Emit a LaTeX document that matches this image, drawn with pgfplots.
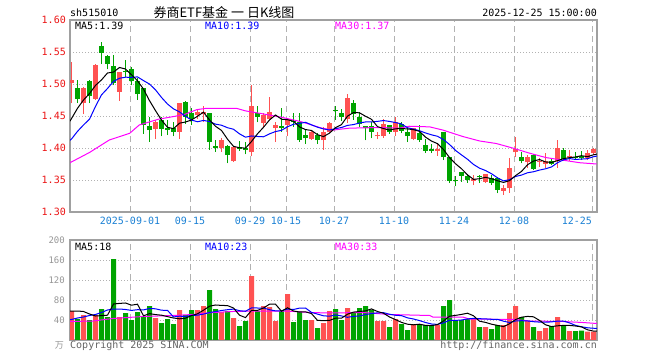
\documentclass[border=0pt]{standalone}
\usepackage{pgfplots}
\pgfplotsset{compat=1.18}
\usepackage{fontspec}
\newfontfamily\mono{DejaVu Sans Mono}
\newfontfamily\cjk{Noto Sans CJK SC}
\definecolor{kred}{RGB}{255,82,82}
\definecolor{kgreen}{RGB}{0,164,0}
\definecolor{mafive}{RGB}{0,0,0}
\definecolor{maten}{RGB}{0,0,255}
\definecolor{mathirty}{RGB}{255,0,255}
\definecolor{xlab}{RGB}{26,128,212}
\definecolor{ylab}{RGB}{235,20,20}
\definecolor{framec}{RGB}{160,160,160}
\definecolor{gridc}{RGB}{178,178,178}
\definecolor{vlab}{RGB}{150,150,150}
\definecolor{foot}{RGB}{100,100,100}
\begin{document}
\begin{tikzpicture}
\useasboundingbox (0,0) rectangle (660bp,360bp);
\pgfplotsset{
  kline/.style={
    scale only axis, width=527bp,
    xmin=-0.25, xmax=87.58,
    axis line style={draw=framec, line width=1.2bp},
    tick style={draw=none},
    xtick={9.75,19.75,29.75,35.75,43.75,53.75,63.75,73.75,86.75},
    xmajorgrids, ymajorgrids,
    major x grid style={gridc, dash pattern=on 6bp off 4bp, line width=0.9bp},
    major y grid style={gridc, dash pattern=on 1bp off 2bp, line width=0.9bp},
    /pgf/number format/assume math mode=true,
    scaled y ticks=false,
    unbounded coords=jump,
  }
}
% ---------------- price panel ----------------
\begin{axis}[kline, at={(70bp,148bp)}, anchor=south west, height=192bp,
  ymin=1.30, ymax=1.60,
  ytick={1.30,1.35,1.40,1.45,1.50,1.55,1.60},
  yticklabel style={font=\mono\fontsize{10bp}{10bp}\selectfont, text=ylab, inner sep=0pt, xshift=-4bp,
    /pgf/number format/fixed, /pgf/number format/fixed zerofill, /pgf/number format/precision=2},
  xticklabels={2025-09-01,09-15,09-29,10-15,10-27,11-10,11-24,12-08,{12-25\hphantom{12-25}}},
  xticklabel style={font=\mono\fontsize{10bp}{10bp}\selectfont, text=xlab, inner sep=0pt, yshift=-5bp},
]
% red wicks
\addplot[kred, line width=1bp] coordinates {
(0,1.470) (0,1.535) (0,nan) (2,1.453) (2,1.495) (2,nan) (4,1.4755) (4,1.531) (4,nan)
(8,1.474) (8,1.518) (8,nan) (14,1.414) (14,1.444) (14,nan) (18,1.414) (18,1.471) (18,nan)
(21,1.446) (21,1.460) (21,nan) (22,1.441) (22,1.465) (22,nan) (25,1.394) (25,1.415) (25,nan)
(27,1.378) (27,1.402) (27,nan) (30,1.387) (30,1.498) (30,nan) (32,1.431) (32,1.455) (32,nan)
(33,1.444) (33,1.480) (33,nan) (34,1.410) (34,1.440) (34,nan) (36,1.418) (36,1.447) (36,nan)
(40,1.413) (40,1.426) (40,nan) (42,1.397) (42,1.433) (42,nan) (43,1.423) (43,1.440) (43,nan)
(46,1.439) (46,1.484) (46,nan) (51,1.414) (51,1.425) (51,nan) (52,1.416) (52,1.445) (52,nan)
(54,1.419) (54,1.449) (54,nan) (57,1.412) (57,1.432) (57,nan) (61,1.388) (61,1.408) (61,nan)
(67,1.342) (67,1.358) (67,nan) (69,1.346) (69,1.360) (69,nan) (72,1.327) (72,1.342) (72,nan)
(73,1.330) (73,1.384) (73,nan) (74,1.386) (74,1.417) (74,nan) (76,1.369) (76,1.389) (76,nan)
(78,1.371) (78,1.384) (78,nan) (79,1.368) (79,1.392) (79,nan) (81,1.369) (81,1.413) (81,nan)
(83,1.380) (83,1.397) (83,nan) (86,1.381) (86,1.397) (86,nan) (87,1.389) (87,1.400)
};
% red bodies
\addplot[kred, line width=5bp] coordinates {
(0,1.501) (0,1.506) (0,nan) (2,1.470) (2,1.494) (2,nan) (4,1.477) (4,1.530) (4,nan)
(8,1.488) (8,1.518) (8,nan) (14,1.430) (14,1.440) (14,nan) (18,1.425) (18,1.471) (18,nan)
(21,1.452) (21,1.457) (21,nan) (22,1.453) (22,1.457) (22,nan) (25,1.400) (25,1.413) (25,nan)
(27,1.379) (27,1.401) (27,nan) (30,1.393) (30,1.465) (30,nan) (32,1.439) (32,1.452) (32,nan)
(33,1.446) (33,1.456) (33,nan) (34,1.431) (34,1.436) (34,nan) (36,1.436) (36,1.445) (36,nan)
(40,1.414) (40,1.425) (40,nan) (42,1.412) (42,1.425) (42,nan) (43,1.425) (43,1.439) (43,nan)
(46,1.445) (46,1.478) (46,nan) (51,1.418) (51,1.421) (51,nan) (52,1.418) (52,1.438) (52,nan)
(54,1.425) (54,1.441) (54,nan) (57,1.414) (57,1.432) (57,nan) (61,1.396) (61,1.398) (61,nan)
(67,1.349) (67,1.351) (67,nan) (69,1.347) (69,1.359) (69,nan) (72,1.333) (72,1.338) (72,nan)
(73,1.337) (73,1.368) (73,nan) (74,1.393) (74,1.398) (74,nan) (76,1.378) (76,1.386) (76,nan)
(78,1.378) (78,1.380) (78,nan) (79,1.375) (79,1.379) (79,nan) (81,1.380) (81,1.400) (81,nan)
(83,1.386) (83,1.388) (83,nan) (86,1.384) (86,1.392) (86,nan) (87,1.392) (87,1.398)
};
% green wicks
\addplot[kgreen, line width=1bp] coordinates {
(1,1.470) (1,1.506) (1,nan) (3,1.470) (3,1.506) (3,nan) (5,1.531) (5,1.566) (5,nan)
(6,1.523) (6,1.546) (6,nan) (7,1.498) (7,1.545) (7,nan) (9,1.511) (9,1.538) (9,nan)
(10,1.498) (10,1.526) (10,nan) (11,1.475) (11,1.509) (11,nan) (12,1.422) (12,1.494) (12,nan)
(13,1.410) (13,1.449) (13,nan) (15,1.418) (15,1.448) (15,nan) (16,1.420) (16,1.444) (16,nan)
(17,1.418) (17,1.440) (17,nan) (19,1.438) (19,1.474) (19,nan) (20,1.436) (20,1.462) (20,nan)
(23,1.397) (23,1.455) (23,nan) (24,1.394) (24,1.412) (24,nan) (26,1.376) (26,1.405) (26,nan)
(28,1.396) (28,1.411) (28,nan) (29,1.390) (29,1.410) (29,nan) (31,1.440) (31,1.465) (31,nan)
(35,1.425) (35,1.462) (35,nan) (37,1.433) (37,1.454) (37,nan) (38,1.410) (38,1.454) (38,nan)
(39,1.407) (39,1.428) (39,nan) (41,1.406) (41,1.423) (41,nan) (44,1.444) (44,1.466) (44,nan)
(45,1.442) (45,1.461) (45,nan) (47,1.444) (47,1.475) (47,nan) (48,1.433) (48,1.457) (48,nan)
(49,1.412) (49,1.435) (49,nan) (50,1.415) (50,1.441) (50,nan) (53,1.422) (53,1.436) (53,nan)
(55,1.423) (55,1.441) (55,nan) (56,1.409) (56,1.433) (56,nan) (58,1.410) (58,1.436) (58,nan)
(59,1.392) (59,1.414) (59,nan) (60,1.392) (60,1.407) (60,nan) (62,1.381) (62,1.425) (62,nan)
(63,1.345) (63,1.386) (63,nan) (64,1.340) (64,1.356) (64,nan) (65,1.347) (65,1.363) (65,nan)
(66,1.346) (66,1.360) (66,nan) (68,1.345) (68,1.358) (68,nan) (70,1.342) (70,1.358) (70,nan)
(71,1.329) (71,1.355) (71,nan) (75,1.376) (75,1.393) (75,nan) (77,1.366) (77,1.390) (77,nan)
(80,1.373) (80,1.384) (80,nan) (82,1.380) (82,1.400) (82,nan) (84,1.382) (84,1.394) (84,nan)
(85,1.381) (85,1.395)
};
% green bodies
\addplot[kgreen, line width=5bp] coordinates {
(1,1.477) (1,1.494) (1,nan) (3,1.482) (3,1.505) (3,nan) (5,1.549) (5,1.559) (5,nan)
(6,1.531) (6,1.543) (6,nan) (7,1.501) (7,1.528) (7,nan) (9,1.518) (9,1.521) (9,nan)
(10,1.504) (10,1.523) (10,nan) (11,1.484) (11,1.504) (11,nan) (12,1.436) (12,1.493) (12,nan)
(13,1.428) (13,1.435) (13,nan) (15,1.430) (15,1.443) (15,nan) (16,1.428) (16,1.431) (16,nan)
(17,1.425) (17,1.431) (17,nan) (19,1.449) (19,1.472) (19,nan) (20,1.446) (20,1.454) (20,nan)
(23,1.410) (23,1.455) (23,nan) (24,1.400) (24,1.403) (24,nan) (26,1.389) (26,1.403) (26,nan)
(28,1.399) (28,1.401) (28,nan) (29,1.397) (29,1.400) (29,nan) (31,1.449) (31,1.454) (31,nan)
(35,1.432) (35,1.435) (35,nan) (37,1.440) (37,1.442) (37,nan) (38,1.412) (38,1.441) (38,nan)
(39,1.415) (39,1.420) (39,nan) (41,1.412) (41,1.420) (41,nan) (44,1.458) (44,1.460) (44,nan)
(45,1.449) (45,1.454) (45,nan) (47,1.453) (47,1.470) (47,nan) (48,1.437) (48,1.448) (48,nan)
(49,1.431) (49,1.435) (49,nan) (50,1.425) (50,1.435) (50,nan) (53,1.425) (53,1.436) (53,nan)
(55,1.427) (55,1.437) (55,nan) (56,1.418) (56,1.425) (56,nan) (58,1.412) (58,1.423) (58,nan)
(59,1.396) (59,1.405) (59,nan) (60,1.396) (60,1.398) (60,nan) (62,1.386) (62,1.425) (62,nan)
(63,1.349) (63,1.386) (63,nan) (64,1.348) (64,1.350) (64,nan) (65,1.357) (65,1.362) (65,nan)
(66,1.350) (66,1.356) (66,nan) (68,1.354) (68,1.356) (68,nan) (70,1.346) (70,1.353) (70,nan)
(71,1.334) (71,1.353) (71,nan) (75,1.379) (75,1.386) (75,nan) (77,1.367) (77,1.389) (77,nan)
(80,1.375) (80,1.380) (80,nan) (82,1.383) (82,1.397) (82,nan) (84,1.384) (84,1.386) (84,nan)
(85,1.385) (85,1.388)
};
% MA30
\addplot[mathirty, line width=1bp] coordinates {
(-0.25,1.377) (3,1.393) (6.3,1.4125) (9.7,1.423) (11.3,1.436) (14.5,1.445) (18.7,1.452)
(20.9,1.460) (22.5,1.462) (27.5,1.462) (29,1.458) (31.5,1.454) (35,1.448) (38.3,1.441)
(41.7,1.431) (43.6,1.428) (46.3,1.431) (51.3,1.432) (54.7,1.431) (56.3,1.434) (59.7,1.433)
(61.9,1.428) (65.2,1.418) (68,1.411) (70.8,1.407) (73.5,1.400) (76.3,1.392) (79.1,1.385)
(81.9,1.381) (84.7,1.377) (87.5,1.375)
};
% MA10
\addplot[maten, line width=1bp] coordinates {
(-0.25,1.412) (0,1.414) (1,1.426) (2,1.436) (3,1.445) (4,1.465) (5,1.483) (6,1.493) (7,1.504) (8,1.509)
(9,1.5106) (10,1.5104) (11,1.5111) (12,1.5053) (13,1.4999) (14,1.4909) (15,1.4790) (16,1.4687)
(17,1.4611) (18,1.4564) (19,1.4495) (20,1.4437) (21,1.4410) (22,1.4431) (23,1.4413) (24,1.4373)
(25,1.4356) (26,1.4317) (27,1.4293) (28,1.4221) (29,1.4169) (30,1.4188) (31,1.4180) (32,1.4175)
(33,1.4221) (34,1.4257) (35,1.4276) (36,1.4332) (37,1.4371) (38,1.4384) (39,1.4402) (40,1.4362)
(41,1.4325) (42,1.4298) (43,1.4281) (44,1.4303) (45,1.4320) (46,1.4353) (47,1.4366) (48,1.4391)
(49,1.4407) (50,1.4407) (51,1.4416) (52,1.4429) (53,1.4415) (54,1.4398) (55,1.4376) (56,1.4316)
(57,1.4295) (58,1.4270) (59,1.4235) (60,1.4206) (61,1.4183) (62,1.4131) (63,1.4055) (64,1.3962)
(65,1.3892) (66,1.3824) (67,1.3743) (68,1.3685) (69,1.3648) (70,1.3598) (71,1.3534) (72,1.3486)
(73,1.3505) (74,1.3555) (75,1.3577) (76,1.3613) (77,1.3629) (78,1.3655) (79,1.3675) (80,1.3704)
(81,1.3770) (82,1.3815) (83,1.3835) (84,1.3821) (85,1.3827) (86,1.3833) (87,1.3864) (87.58,1.3875)
};
% MA5
\addplot[mafive, line width=1bp] coordinates {
(-0.25,1.442) (0,1.446) (1,1.462) (2,1.475) (3,1.485) (4,1.4978) (5,1.5064) (6,1.5172) (7,1.5186)
(8,1.5258) (9,1.5234) (10,1.5144) (11,1.5050) (12,1.4920) (13,1.4740) (14,1.4584) (15,1.4436)
(16,1.4324) (17,1.4302) (18,1.4388) (19,1.4406) (20,1.4438) (21,1.4496) (22,1.4560) (23,1.4438)
(24,1.4340) (25,1.4274) (26,1.4138) (27,1.4026) (28,1.4004) (29,1.3998) (30,1.4102) (31,1.4222)
(32,1.4324) (33,1.4438) (34,1.4516) (35,1.4450) (36,1.4442) (37,1.4418) (38,1.4330) (39,1.4288)
(40,1.4274) (41,1.4208) (42,1.4178) (43,1.4232) (44,1.4318) (45,1.4366) (46,1.4498) (47,1.4554)
(48,1.4550) (49,1.4496) (50,1.4448) (51,1.4334) (52,1.4304) (53,1.4280) (54,1.4300) (55,1.4304)
(56,1.4298) (57,1.4286) (58,1.4260) (59,1.4170) (60,1.4108) (61,1.4068) (62,1.3976) (63,1.3850)
(64,1.3754) (65,1.3676) (66,1.3580) (67,1.3510) (68,1.3520) (69,1.3542) (70,1.3520) (71,1.3488)
(72,1.3462) (73,1.3490) (74,1.3568) (75,1.3634) (76,1.3738) (77,1.3796) (78,1.3820) (79,1.3782)
(80,1.3774) (81,1.3802) (82,1.3834) (83,1.3850) (84,1.3860) (85,1.3880) (86,1.3864) (87,1.3894) (87.58,1.3905)
};
\end{axis}
% ---------------- volume panel ----------------
\begin{axis}[kline, at={(70bp,20bp)}, anchor=south west, height=100bp,
  ymin=0, ymax=200,
  ytick={40,80,120,160,200},
  yticklabel style={font=\mono\fontsize{9bp}{9bp}\selectfont, text=vlab, inner sep=0pt, xshift=-5bp},
  xticklabels={},
]
\addplot[ybar, bar width=0.833, bar shift=0pt, fill=kred, draw=none] coordinates {
(0,58) (2,50) (4,50) (8,46) (14,44) (18,60) (21,60) (22,68) (25,56) (27,44) (30,128) (32,68)
(33,66) (34,38) (36,92) (40,40) (42,34) (43,58) (46,64) (51,38) (52,38) (54,42) (57,32) (61,30)
(67,42) (69,26) (72,30) (73,54) (74,68) (76,38) (78,18) (79,24) (81,46) (83,18) (86,17) (87,17)
};
\addplot[ybar, bar width=0.833, bar shift=0pt, fill=kgreen, draw=none] coordinates {
(1,42) (3,40) (5,62) (6,46) (7,162) (9,54) (10,40) (11,56) (12,46) (13,68) (15,34) (16,42)
(17,32) (19,50) (20,60) (23,100) (24,62) (26,58) (28,28) (29,38) (31,58) (35,58) (37,36) (38,56)
(39,40) (41,24) (44,62) (45,40) (47,55) (48,64) (49,68) (50,60) (53,26) (55,32) (56,20) (58,32)
(59,30) (60,30) (62,68) (63,80) (64,38) (65,40) (66,42) (68,26) (70,22) (71,30) (75,46) (77,26)
(80,28) (82,30) (84,18) (85,19)
};
% vol MA30
\addplot[mathirty, line width=1bp] coordinates {
(-0.25,37) (3.6,38) (6.9,43) (11.9,47) (16.9,49) (20.2,51) (23.6,55) (26.9,57) (30.2,58)
(35.8,58) (39.7,55) (43,54) (48.6,55) (53,51) (59.7,49) (60.2,46) (65.2,46) (66.3,42)
(74,41) (76.3,38) (81.9,37) (85.2,35) (87.58,33)
};
% vol MA10
\addplot[maten, line width=1bp] coordinates {
(-0.25,41) (0,41) (1,44) (2,46) (3,49) (4,51) (5,55) (6,60) (7,62) (8,62) (9,61) (10,59.2) (11,60.6)
(12,60.2) (13,63) (14,62.4) (15,59.6) (16,59.2) (17,46.2) (18,47.6) (19,47.2) (20,49.2) (21,49.6)
(22,51.8) (23,55) (24,56.8) (25,59) (26,60.6) (27,61.8) (28,58.6) (29,57.4) (30,64.2) (31,64)
(32,64) (33,60.6) (34,58.2) (35,58.4) (36,61.8) (37,61) (38,63.8) (39,64) (40,55.2) (41,51.8)
(42,48.4) (43,47.6) (44,50) (45,48.2) (46,45.4) (47,47.3) (48,48.1) (49,50.9) (50,52.9) (51,54.3)
(52,54.7) (53,51.5) (54,49.5) (55,48.7) (56,44.3) (57,42) (58,38.8) (59,35) (60,32) (61,31.2)
(62,34.2) (63,39.6) (64,39.2) (65,40) (66,42.2) (67,43.2) (68,42.6) (69,42.2) (70,41.4) (71,41.4)
(72,37.6) (73,35) (74,38) (75,38.6) (76,38.2) (77,36.6) (78,35.8) (79,35.6) (80,36.2) (81,37.8)
(82,37.8) (83,34.2) (84,29.2) (85,26.5) (86,24.4) (87,23.5) (87.58,23.2)
};
% vol MA5
\addplot[mafive, line width=1bp] coordinates {
(-0.25,58) (0,58) (1,58) (2,57) (3,52) (4,48) (5,48.8) (6,49.6) (7,72) (8,73.2) (9,74) (10,69.6)
(11,71.6) (12,48.4) (13,52.8) (14,50.8) (15,49.6) (16,46.8) (17,44) (18,42.4) (19,43.6) (20,48.8)
(21,52.4) (22,59.6) (23,67.6) (24,70) (25,69.2) (26,68.8) (27,64) (28,49.6) (29,44.8) (30,59.2)
(31,59.2) (32,64) (33,71.6) (34,71.6) (35,57.6) (36,64.4) (37,58) (38,56) (39,56.4) (40,52.8)
(41,39.2) (42,38.8) (43,39.2) (44,43.6) (45,43.6) (46,51.6) (47,55.8) (48,57) (49,58.2) (50,62.2)
(51,57) (52,53.6) (53,46) (54,40.8) (55,35.2) (56,31.6) (57,30.4) (58,31.6) (59,29.2) (60,28.8)
(61,30.8) (62,38) (63,47.6) (64,49.2) (65,51.2) (66,53.6) (67,48.4) (68,37.6) (69,35.2) (70,31.6)
(71,29.2) (72,26.8) (73,32.4) (74,40.8) (75,45.6) (76,47.2) (77,46.4) (78,39.2) (79,30.4) (80,26.8)
(81,28.4) (82,29.2) (83,29.2) (84,28) (85,26.2) (86,20.4) (87,17.8) (87.58,17.6)
};
\end{axis}
% ---------------- texts ----------------
\node[anchor=west, inner sep=0pt] at (70bp,347bp) {\mono\fontsize{10bp}{10bp}\selectfont sh515010};
\node[anchor=center, inner sep=0pt] at (224bp,347bp) {\cjk\fontsize{13bp}{13bp}\selectfont 券商ETF基金 一 日K线图};
\node[anchor=east, inner sep=0pt] at (597bp,347bp) {\mono\fontsize{10bp}{10bp}\selectfont 2025-12-25 15:00:00};
\node[anchor=west, inner sep=0pt, text=mafive] at (75bp,334bp) {\mono\fontsize{10bp}{10bp}\selectfont MA5:1.39};
\node[anchor=west, inner sep=0pt, text=maten] at (205bp,334bp) {\mono\fontsize{10bp}{10bp}\selectfont MA10:1.39};
\node[anchor=west, inner sep=0pt, text=mathirty] at (335bp,334bp) {\mono\fontsize{10bp}{10bp}\selectfont MA30:1.37};
\node[anchor=west, inner sep=0pt, text=mafive] at (75bp,113bp) {\mono\fontsize{10bp}{10bp}\selectfont MA5:18};
\node[anchor=west, inner sep=0pt, text=maten] at (205bp,113bp) {\mono\fontsize{10bp}{10bp}\selectfont MA10:23};
\node[anchor=west, inner sep=0pt, text=mathirty] at (335bp,113bp) {\mono\fontsize{10bp}{10bp}\selectfont MA30:33};
\node[anchor=east, inner sep=0pt, text=vlab] at (64bp,15bp) {\cjk\fontsize{9bp}{9bp}\selectfont 万};
\node[anchor=west, inner sep=0pt, text=foot] at (70bp,14bp) {\mono\fontsize{10bp}{10bp}\selectfont Copyright 2025 SINA.COM};
\node[anchor=east, inner sep=0pt, text=foot] at (597bp,14bp) {\mono\fontsize{10bp}{10bp}\selectfont http://finance.sina.com.cn};
\end{tikzpicture}
\end{document}
